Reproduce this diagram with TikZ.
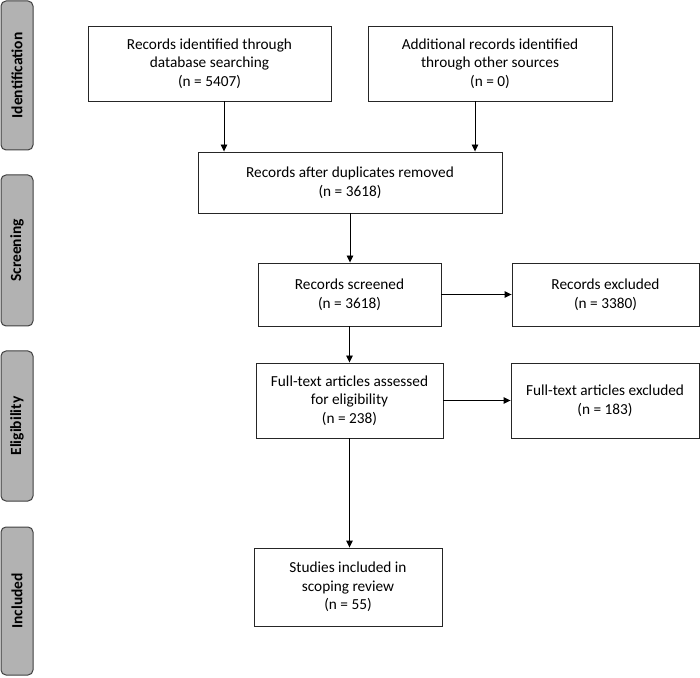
\documentclass[tikz,border=0pt]{standalone}
\usepackage{fontspec}
\setmainfont{Carlito}
\usetikzlibrary{arrows.meta}
\begin{document}
\begin{tikzpicture}[x=1pt,y=1pt,
  box/.style={draw=black!85, line width=0.9pt, align=center, inner sep=2pt, font=\fontsize{15.3}{18.6}\selectfont},
  phase/.style={draw=black!75, fill=black!30, line width=1pt, rounded corners=5pt, minimum width=32pt},
  ptext/.style={rotate=90, font=\bfseries\fontsize{15.5}{17}\selectfont},
  arr/.style={line width=0.9pt, -{Triangle[length=7pt,width=6.5pt]}}]
\useasboundingbox (0,0) rectangle (700,677);
% phase labels
\node[phase, minimum height=149pt] (pid) at (17,601.5) {};
\node[ptext] (tid) at (pid.center) {Identification};
\node[phase, minimum height=151pt] (psc) at (17,426.5) {};
\node[ptext] (tsc) at (psc.center) {Screening};
\node[phase, minimum height=150pt] (pel) at (17,251) {};
\node[ptext] (tel) at (pel.center) {Eligibility};
\node[phase, minimum height=148pt] (pin) at (17,76) {};
\node[ptext] (tin) at (pin.center) {Included};
% boxes
\node[box, minimum width=243pt, minimum height=75pt] (b1) at (209.5,613.5) {Records identified through\\database searching\\(n = 5407)};
\node[box, minimum width=244pt, minimum height=75pt] (b2) at (490,613.5) {Additional records identified\\through other sources\\(n = 0)};
\node[box, minimum width=304pt, minimum height=61pt] (b3) at (350,494.5) {Records after duplicates removed\\(n = 3618)};
\node[box, minimum width=183pt, minimum height=63pt] (b4) at (349.5,382.5) {Records screened\\(n = 3618)};
\node[box, minimum width=187pt, minimum height=63pt] (b5) at (605.5,382.5) {Records excluded\\(n = 3380)};
\node[box, minimum width=187pt, minimum height=75pt] (b6) at (349.5,276.5) {Full-text articles assessed\\for eligibility\\(n = 238)};
\node[box, minimum width=188pt, minimum height=75pt] (b7) at (605,276.5) {Full-text articles excluded\\(n = 183)};
\node[box, minimum width=188pt, minimum height=78pt] (b8) at (348,90) {Studies included in\\scoping review\\(n = 55)};
% connectors
\draw[arr] ([xshift=14.5pt]b1.south) -- ([xshift=14.5pt]b1.south |- b3.north);
\draw[arr] ([xshift=-15pt]b2.south) -- ([xshift=-15pt]b2.south |- b3.north);
\draw[arr] (b3.south) -- (b3.south |- b4.north);
\draw[arr] (b4.east) -- (b5.west);
\draw[arr] (b4.south) -- (b4.south |- b6.north);
\draw[arr] (b6.east) -- (b7.west);
\draw[arr] (b6.south) -- (b6.south |- b8.north);
\end{tikzpicture}
\end{document}
